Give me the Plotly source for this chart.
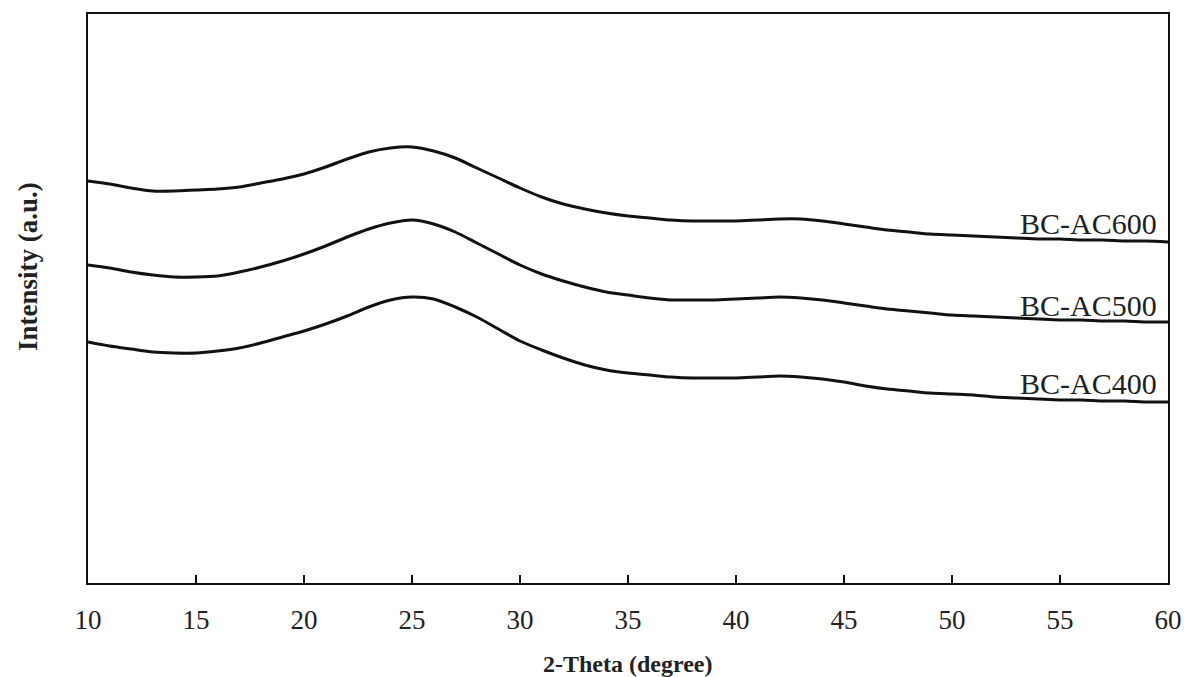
import plotly.graph_objects as go

two_theta = list(range(10, 61))

bc_ac600 = [402, 399, 395, 392, 392, 393, 394, 396, 400, 404, 409, 416, 424, 431, 435, 436, 432, 425, 415, 405,
            395, 386, 379, 374, 370, 367, 365, 363, 362, 362, 362, 363, 364, 364, 362, 359, 356, 353, 351, 349,
            348, 347, 346, 345, 344, 344, 343, 343, 342, 342, 341]
bc_ac500 = [318, 315, 311, 308, 306, 306, 307, 311, 316, 322, 329, 337, 346, 354, 360, 363, 359, 351, 340, 329,
            318, 309, 302, 296, 291, 288, 285, 283, 283, 283, 284, 285, 286, 285, 283, 280, 277, 274, 272, 270,
            268, 267, 266, 265, 264, 263, 263, 262, 262, 261, 261]
bc_ac400 = [241, 237, 234, 231, 230, 230, 232, 235, 240, 246, 252, 259, 267, 276, 283, 286, 284, 276, 266, 254,
            242, 233, 225, 218, 213, 210, 208, 206, 205, 205, 205, 206, 207, 206, 204, 201, 197, 194, 192, 190,
            189, 188, 186, 185, 184, 183, 183, 182, 182, 181, 181]

series_names = ["BC-AC600", "BC-AC500", "BC-AC400"]
label_y = [360, 278, 200]
x_ticks = [10, 15, 20, 25, 30, 35, 40, 45, 50, 55, 60]

FONT = "Liberation Serif"

fig = go.Figure()
for name, vals in zip(series_names, [bc_ac600, bc_ac500, bc_ac400]):
    fig.add_trace(go.Scatter(x=two_theta, y=vals, mode="lines", name=name,
                             line=dict(color="#111111", width=3, shape="spline", smoothing=0.8),
                             showlegend=False))

for name, ly in zip(series_names, label_y):
    fig.add_annotation(x=59.6, y=ly, text=name, showarrow=False, xanchor="right", yanchor="middle",
                       font=dict(family=FONT, size=30, color="#222222"))

fig.add_annotation(xref="paper", yref="paper", x=0.5, y=-0.142, text="<b>2-Theta (degree)</b>",
                   showarrow=False, xanchor="center", yanchor="middle",
                   font=dict(family=FONT, size=24, color="#222222"))
fig.add_annotation(xref="paper", yref="paper", x=-0.0556, y=0.557, text="<b>Intensity (a.u.)</b>",
                   showarrow=False, textangle=-90, xanchor="center", yanchor="middle",
                   font=dict(family=FONT, size=27, color="#222222"))

fig.update_xaxes(range=[10, 60], tickvals=x_ticks, ticks="inside", ticklen=8, tickwidth=2,
                 tickcolor="#111111", showline=True, linecolor="#111111", linewidth=2, mirror=True,
                 showgrid=False, zeroline=False, ticklabelstandoff=12, automargin=False,
                 tickfont=dict(family=FONT, size=27, color="#222222"))
fig.update_yaxes(range=[0, 569], showticklabels=False, ticks="", showline=True, linecolor="#111111",
                 linewidth=2, mirror=True, showgrid=False, zeroline=False, automargin=False)

fig.update_layout(width=1184, height=677, margin=dict(l=88, r=16, t=14, b=94),
                  plot_bgcolor="white", paper_bgcolor="white")

fig.write_html("out.html")
